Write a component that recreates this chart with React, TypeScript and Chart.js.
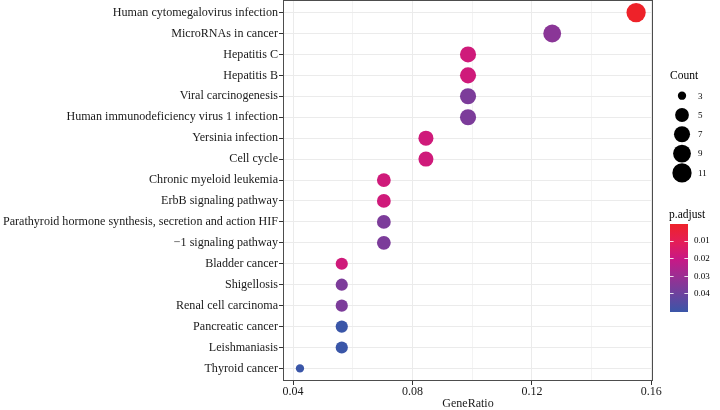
import React, { useEffect, useRef } from "react";
import { Chart, registerables } from "chart.js";
Chart.register(...registerables);

const categories = [
  "Human cytomegalovirus infection",
  "MicroRNAs in cancer",
  "Hepatitis C",
  "Hepatitis B",
  "Viral carcinogenesis",
  "Human immunodeficiency virus 1 infection",
  "Yersinia infection",
  "Cell cycle",
  "Chronic myeloid leukemia",
  "ErbB signaling pathway",
  "Parathyroid hormone synthesis, secretion and action HIF",
  "\u22121 signaling pathway",
  "Bladder cancer",
  "Shigellosis",
  "Renal cell carcinoma",
  "Pancreatic cancer",
  "Leishmaniasis",
  "Thyroid cancer",
];
const geneRatio = [0.1549, 0.1268, 0.0986, 0.0986, 0.0986, 0.0986, 0.0845, 0.0845, 0.0704, 0.0704, 0.0704, 0.0704, 0.0563, 0.0563, 0.0563, 0.0563, 0.0563, 0.0423];
const counts = [11, 9, 7, 7, 7, 7, 6, 6, 5, 5, 5, 5, 4, 4, 4, 4, 4, 3];
const pAdjust = [0.0006, 0.034, 0.018, 0.018, 0.037, 0.037, 0.018, 0.018, 0.018, 0.018, 0.037, 0.037, 0.018, 0.037, 0.037, 0.0505, 0.0505, 0.0505];
const xTicks = [0.04, 0.06, 0.08, 0.1, 0.12, 0.14, 0.16];
const xMajor = [0.04, 0.08, 0.12, 0.16];
const countBreaks = [3, 5, 7, 9, 11];
const pBreaks = [0.01, 0.02, 0.03, 0.04];

// style constants
const FONT = "'Liberation Serif', 'Times New Roman', serif";
const gradStops: [number, string][] = [
  [0, "#EE2229"],
  [0.2, "#E51E56"],
  [0.4, "#C81886"],
  [0.6, "#9A2F93"],
  [0.8, "#6B439E"],
  [1, "#3A56A8"],
];
const dMin = 8.3;
const dMax = 19.3;

const cMin = Math.min(...counts);
const cMax = Math.max(...counts);
const pMin = Math.min(...pAdjust);
const pMax = Math.max(...pAdjust);

function radiusFor(c: number) {
  const t = (c - cMin) / (cMax - cMin);
  return (dMin + (dMax - dMin) * Math.sqrt(t)) / 2;
}
function hexToRgb(h: string) {
  const n = parseInt(h.slice(1), 16);
  return [(n >> 16) & 255, (n >> 8) & 255, n & 255];
}
function colorFor(p: number) {
  const t = Math.max(0, Math.min(1, (p - pMin) / (pMax - pMin)));
  for (let i = 0; i < gradStops.length - 1; i++) {
    const [t0, c0] = gradStops[i];
    const [t1, c1] = gradStops[i + 1];
    if (t <= t1) {
      const f = (t - t0) / (t1 - t0);
      const a = hexToRgb(c0);
      const b = hexToRgb(c1);
      const r = a.map((v, k) => Math.round(v + (b[k] - v) * f));
      return `rgb(${r[0]},${r[1]},${r[2]})`;
    }
  }
  return gradStops[gradStops.length - 1][1];
}

const legendPlugin = {
  id: "ggLegend",
  afterDatasetsDraw(chart: any) {
    const ctx = chart.ctx;
    const a = chart.chartArea;
    ctx.save();
    ctx.strokeStyle = "#4d4d4d";
    ctx.lineWidth = 1;
    ctx.strokeRect(Math.round(a.left) + 0.5, Math.round(a.top) + 0.5, Math.round(a.right - a.left) - 1, Math.round(a.bottom - a.top) - 1);
    ctx.restore();
  },
  afterDraw(chart: any) {
    const ctx = chart.ctx;
    ctx.save();
    ctx.fillStyle = "#000";
    ctx.textBaseline = "middle";
    ctx.textAlign = "left";
    // Count legend
    ctx.font = `11.5px ${FONT}`;
    ctx.fillText("Count", 670, 76);
    const cy0 = 95.7;
    const step = 19.3;
    countBreaks.forEach((c, i) => {
      const y = cy0 + i * step;
      ctx.beginPath();
      ctx.arc(682, y, radiusFor(c), 0, Math.PI * 2);
      ctx.fillStyle = "#000";
      ctx.fill();
      ctx.font = `9px ${FONT}`;
      ctx.fillText(String(c), 698, y + 0.5);
    });
    // p.adjust colorbar
    ctx.font = `11.5px ${FONT}`;
    ctx.fillText("p.adjust", 669, 215);
    const bx = 670, bw = 18, by = 224, bh = 88;
    const g = ctx.createLinearGradient(0, by, 0, by + bh);
    gradStops.forEach(([t, c]) => g.addColorStop(t, c));
    ctx.fillStyle = g;
    ctx.fillRect(bx, by, bw, bh);
    ctx.strokeStyle = "rgba(255,255,255,0.85)";
    ctx.lineWidth = 1;
    pBreaks.forEach((p) => {
      const y = by + ((p - pMin) / (pMax - pMin)) * bh;
      const yy = Math.round(y) + 0.5;
      ctx.beginPath();
      ctx.moveTo(bx, yy);
      ctx.lineTo(bx + 3.6, yy);
      ctx.moveTo(bx + bw - 3.6, yy);
      ctx.lineTo(bx + bw, yy);
      ctx.stroke();
      ctx.fillStyle = "#000";
      ctx.font = `9px ${FONT}`;
      ctx.fillText(p.toFixed(2), 694, y + 0.5);
    });
    ctx.restore();
  },
};

export default function App() {
  const ref = useRef<HTMLCanvasElement | null>(null);
  useEffect(() => {
    if (!ref.current) return;
    const data = categories.map((_, i) => ({ x: geneRatio[i], y: i, r: radiusFor(counts[i]) }));
    const chart = new Chart(ref.current, {
      type: "bubble",
      data: {
        datasets: [
          {
            data,
            backgroundColor: pAdjust.map(colorFor),
            borderWidth: 0,
            hoverBorderWidth: 0,
          },
        ],
      },
      plugins: [legendPlugin],
      options: {
        responsive: false,
        animation: false,
        events: [],
        layout: { autoPadding: false, padding: { top: 0, right: 67, left: 0, bottom: 0 } },
        plugins: { legend: { display: false }, tooltip: { enabled: false } },
        scales: {
          x: {
            type: "linear",
            min: 0.03662,
            max: 0.16056,
            afterBuildTicks: (s: any) => {
              s.ticks = xTicks.map((v) => ({ value: v }));
            },
            afterFit: (s: any) => {
              s.height = 29;
              s.paddingLeft = 0;
              s.paddingRight = 0;
            },
            ticks: {
              autoSkip: false,
              maxRotation: 0,
              padding: 0,
              color: "#1a1a1a",
              font: { family: FONT, size: 12 },
              callback: (v: any) => {
                const n = Number(v);
                return xMajor.some((m) => Math.abs(m - n) < 1e-9) ? n.toFixed(2) : "";
              },
            },
            grid: {
              color: (c: any) => {
                const v = c.tick ? c.tick.value : 0;
                return xMajor.some((m) => Math.abs(m - v) < 1e-9) ? "#EBEBEB" : "#F3F3F3";
              },
              lineWidth: 1,
              drawTicks: true,
              tickLength: 4,
              tickColor: (c: any) => {
                const v = c.tick ? c.tick.value : 0;
                return xMajor.some((m) => Math.abs(m - v) < 1e-9) ? "#333333" : "rgba(0,0,0,0)";
              },
            },
            border: { display: false },
            title: {
              display: true,
              text: "GeneRatio",
              color: "#1a1a1a",
              font: { family: FONT, size: 12, lineHeight: 1 },
              padding: { top: 0, bottom: 0 },
            },
          },
          y: {
            type: "linear",
            reverse: true,
            min: -0.6,
            max: categories.length - 1 + 0.6,
            afterBuildTicks: (s: any) => {
              s.ticks = categories.map((_, i) => ({ value: i }));
            },
            afterFit: (s: any) => {
              s.width = 283;
              s.paddingTop = 0;
              s.paddingBottom = 0;
            },
            ticks: {
              autoSkip: false,
              padding: 1,
              color: "#1a1a1a",
              font: { family: FONT, size: 12.1 },
              callback: (v: any) => categories[Math.round(Number(v))] ?? "",
            },
            grid: {
              color: "#EBEBEB",
              lineWidth: 1,
              drawTicks: true,
              tickLength: 4,
              tickColor: "#333333",
            },
            border: { display: false },
          },
        },
      },
    } as any);
    return () => chart.destroy();
  }, []);
  return (
    <div style={{ position: "fixed", left: 0, top: 0, width: 720, height: 410, background: "#fff" }}>
      <canvas ref={ref} width={720} height={410} style={{ display: "block", width: 720, height: 410 }} />
    </div>
  );
}
